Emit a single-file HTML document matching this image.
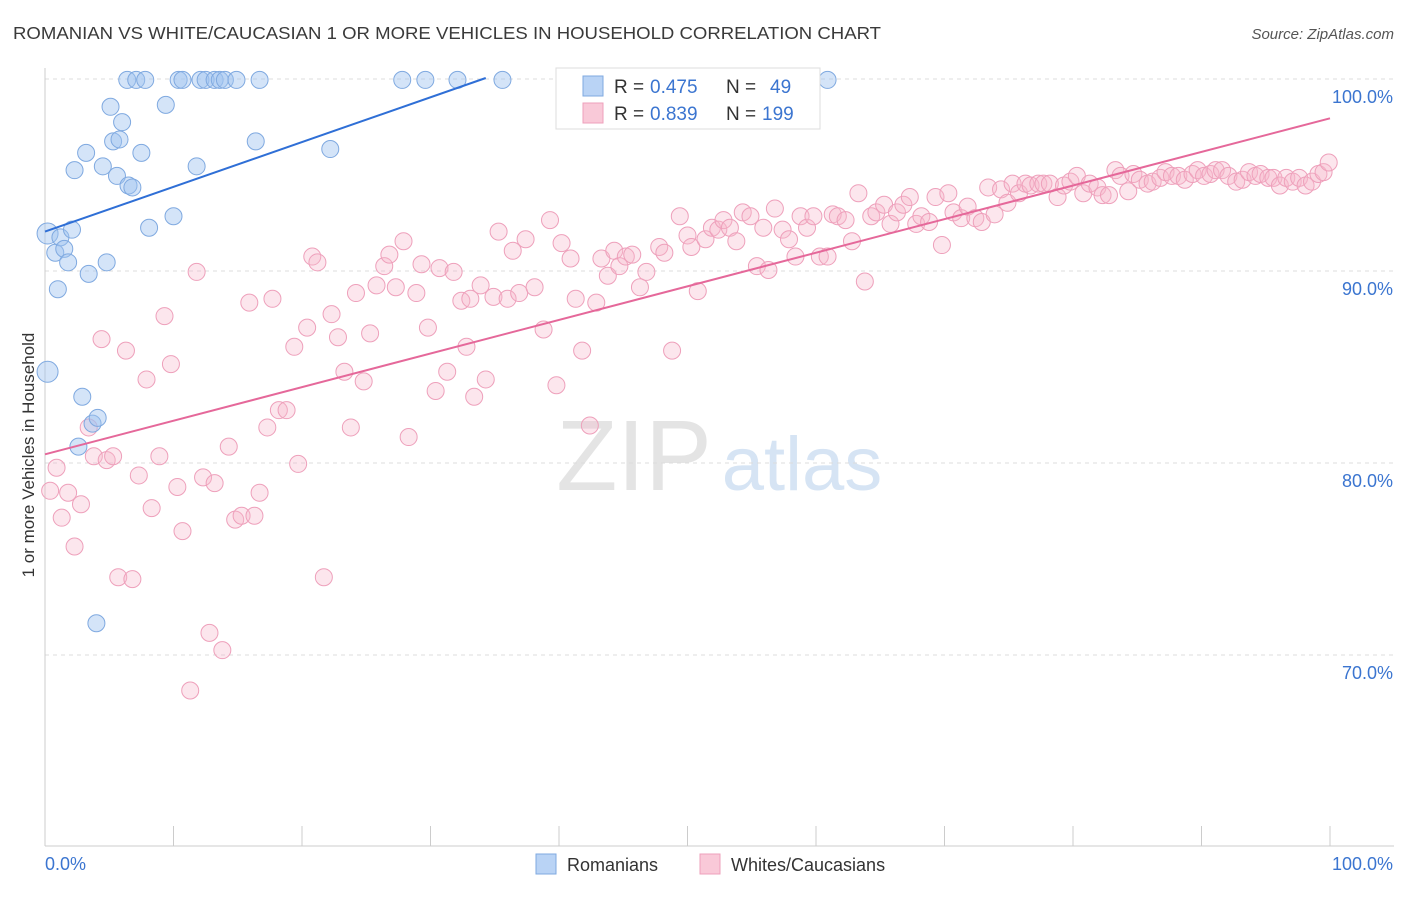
<!DOCTYPE html>
<html><head><meta charset="utf-8"><style>
body{margin:0;background:#fff;font-family:"Liberation Sans",sans-serif;}
svg text{font-family:"Liberation Sans",sans-serif;}
</style></head><body>
<svg id="chart" width="1406" height="892" xmlns="http://www.w3.org/2000/svg">
<text x="13" y="39" font-size="17.5" fill="#3a3a3a" textLength="868" lengthAdjust="spacingAndGlyphs">ROMANIAN VS WHITE/CAUCASIAN 1 OR MORE VEHICLES IN HOUSEHOLD CORRELATION CHART</text>
<text x="1394" y="39" font-size="15" fill="#555" font-style="italic" text-anchor="end">Source: ZipAtlas.com</text>
<g>
<text x="634" y="490" font-size="100" fill="#e4e4e4" font-family="Liberation Serif" text-anchor="middle">ZIP</text>
<text x="802" y="490" font-size="76" fill="#d6e4f4" text-anchor="middle">atlas</text>
</g>
<g id="grid"></g>
<g id="axes"></g>
<g id="marks"></g>
<text transform="translate(34,455) rotate(-90)" font-size="17" fill="#333" text-anchor="middle">1 or more Vehicles in Household</text>
<g>
<rect x="556" y="68" width="264" height="61" fill="#fff" stroke="#ddd"/>
<rect x="583" y="76" width="20" height="20" fill="#b9d3f5" stroke="#7fa9e0"/>
<rect x="583" y="103" width="20" height="20" fill="#f9c9d8" stroke="#eea0bb"/>
<text x="614" y="93" font-size="19" fill="#333">R =</text>
<text x="650" y="93" font-size="19" fill="#3b75d0">0.475</text>
<text x="726" y="93" font-size="19" fill="#333">N =</text>
<text x="770" y="93" font-size="19" fill="#3b75d0">49</text>
<text x="614" y="120" font-size="19" fill="#333">R =</text>
<text x="650" y="120" font-size="19" fill="#3b75d0">0.839</text>
<text x="726" y="120" font-size="19" fill="#333">N =</text>
<text x="762" y="120" font-size="19" fill="#3b75d0">199</text>
</g>
<g>
<rect x="536" y="854" width="20" height="20" fill="#b9d3f5" stroke="#7fa9e0"/>
<text x="567" y="871" font-size="18" fill="#333">Romanians</text>
<rect x="700" y="854" width="20" height="20" fill="#f9c9d8" stroke="#eea0bb"/>
<text x="731" y="871" font-size="18" fill="#333">Whites/Caucasians</text>
</g>
</svg>
<script>
const blueX=[0.2,0.2,0.8,1.0,1.2,1.5,1.8,2.1,2.3,2.6,2.9,3.2,3.4,3.7,4.1,4.0,4.5,4.8,5.1,5.3,5.6,5.8,6.0,6.5,6.8,6.4,7.1,7.5,7.8,8.1,9.4,10.0,10.4,10.7,11.8,12.1,12.5,13.2,13.6,14.0,14.9,16.4,16.7,22.2,27.8,29.6,32.1,35.6,53.9,60.9];
const blueY=[91.9,84.7,90.9,89.0,91.7,91.1,90.4,92.1,95.2,80.8,83.4,96.1,89.8,82.0,82.3,71.6,95.4,90.4,98.5,96.7,94.9,96.8,97.7,94.4,94.3,99.9,99.9,96.1,99.9,92.2,98.6,92.8,99.9,99.9,95.4,99.9,99.9,99.9,99.9,99.9,99.9,96.7,99.9,96.3,99.9,99.9,99.9,99.9,99.9,99.9];
const pinkX=[0.4,0.9,1.3,1.8,2.3,2.8,3.4,3.8,4.4,4.8,5.3,5.7,6.3,6.8,7.3,7.9,8.3,8.9,9.3,9.8,10.3,10.7,11.3,11.8,12.3,12.8,13.2,13.8,14.3,14.8,15.3,15.9,16.3,16.7,17.3,17.7,18.2,18.8,19.4,19.7,20.4,20.8,21.2,21.7,22.3,22.8,23.3,23.8,24.2,24.8,25.3,25.8,26.4,26.8,27.3,27.9,28.3,28.9,29.3,29.8,30.4,30.7,31.3,31.8,32.4,32.8,33.1,33.4,33.9,34.3,34.9,35.3,36.0,36.4,36.9,37.4,38.1,38.8,39.3,39.8,40.2,40.9,41.3,41.8,42.4,42.9,43.3,43.8,44.3,44.7,45.2,45.7,46.3,46.8,47.8,48.2,48.8,49.4,50.0,50.3,50.8,51.4,51.9,52.4,52.8,53.3,53.8,54.3,54.9,55.4,55.9,56.3,56.8,57.4,57.9,58.4,58.8,59.3,59.8,60.3,60.9,61.3,61.7,62.3,62.8,63.3,63.8,64.3,64.7,65.3,65.8,66.3,66.8,67.3,67.8,68.2,68.8,69.3,69.8,70.3,70.7,71.3,71.8,72.4,72.9,73.4,73.9,74.4,74.9,75.3,75.8,76.3,76.7,77.3,77.7,78.2,78.8,79.3,79.8,80.3,80.8,81.3,81.9,82.3,82.8,83.3,83.7,84.3,84.7,85.2,85.8,86.2,86.8,87.2,87.7,88.2,88.7,89.3,89.7,90.2,90.7,91.1,91.6,92.1,92.7,93.2,93.7,94.2,94.6,95.2,95.6,96.1,96.6,97.1,97.6,98.1,98.6,99.1,99.5,99.9];
const pinkY=[78.5,79.7,77.1,78.4,75.6,77.8,81.8,80.3,86.4,80.1,80.3,74.0,85.8,73.9,79.3,84.3,77.6,80.3,87.6,85.1,78.7,76.4,68.1,89.9,79.2,71.1,78.9,70.2,80.8,77.0,77.2,88.3,77.2,78.4,81.8,88.5,82.7,82.7,86.0,79.9,87.0,90.7,90.4,74.0,87.7,86.5,84.7,81.8,88.8,84.2,86.7,89.2,90.2,90.8,89.1,91.5,81.3,88.8,90.3,87.0,83.7,90.1,84.7,89.9,88.4,86.0,88.5,83.4,89.2,84.3,88.6,92.0,88.5,91.0,88.8,91.6,89.1,86.9,92.6,84.0,91.4,90.6,88.5,85.8,81.9,88.3,90.6,89.7,91.0,90.2,90.7,90.8,89.1,89.9,91.2,90.9,85.8,92.8,91.8,91.2,88.9,91.6,92.2,92.1,92.6,92.2,91.5,93.0,92.8,90.2,92.2,90.0,93.2,92.1,91.6,90.7,92.8,92.2,92.8,90.7,90.7,92.9,92.8,92.6,91.5,94.0,89.4,92.8,93.0,93.4,92.4,93.0,93.4,93.8,92.4,92.8,92.5,93.8,91.3,94.0,93.0,92.7,93.3,92.7,92.5,94.3,92.9,94.2,93.5,94.5,94.0,94.5,94.4,94.5,94.5,94.5,93.8,94.4,94.6,94.9,94.0,94.5,94.3,93.9,93.9,95.2,94.9,94.1,95.0,94.7,94.5,94.6,94.8,95.1,94.9,94.9,94.7,95.0,95.2,94.9,95.0,95.2,95.2,94.9,94.6,94.7,95.1,94.9,95.0,94.8,94.8,94.4,94.8,94.6,94.8,94.4,94.6,95.0,95.1,95.6];
const blueTrend=[0,92.0,34.3,100];
const pinkTrend=[0,80.4,100,97.9];
const yTicks=[100,90,80,70];
const xTickVals=[0,10,20,30,40,50,60,70,80,90,100];

const NS="http://www.w3.org/2000/svg";
const X0=45,X1=1330,YT=78,YB=846,YMIN=60,YMAX=100;
const sx=v=>X0+(v/100)*(X1-X0);
const sy=v=>YB-(v-YMIN)/(YMAX-YMIN)*(YB-YT);
function mk(tag,attrs,parent){const e=document.createElementNS(NS,tag);for(const k in attrs)e.setAttribute(k,attrs[k]);parent.appendChild(e);return e;}
const grid=document.getElementById('grid'),axes=document.getElementById('axes'),marks=document.getElementById('marks');
yTicks.forEach(t=>{
  const l=mk('line',{x1:X0,x2:1394,y1:sy(t)+1,y2:sy(t)+1,stroke:'#dcdcdc','stroke-dasharray':'4,4'},grid);
  
  
  const tx=mk('text',{x:1393,y:sy(t)+25,'font-size':18,fill:'#3b75d0','text-anchor':'end'},axes);
  tx.textContent=t.toFixed(1)+'%';
  
  
});
const ya=mk('line',{x1:X0,x2:X0,y1:68,y2:YB,stroke:'#ccc'},axes);


const xa=mk('line',{x1:X0,x2:1394,y1:YB,y2:YB,stroke:'#ccc'},axes);


xTickVals.forEach(t=>{
  const l=mk('line',{x1:sx(t),x2:sx(t),y1:YB-20,y2:YB,stroke:'#ccc'},axes);
  
  
});
[[0,'start','0.0%'],[100,'end','100.0%']].forEach(([v,a,s])=>{
  const tx=mk('text',{x:v===0?sx(v):sx(v)+63,y:870,'font-size':18,fill:'#3b75d0','text-anchor':a},axes);
  tx.textContent=s;
  
  
});
pinkX.forEach((x,i)=>{
  const c=mk('circle',{cx:sx(x),cy:sy(pinkY[i]),r:8.5,fill:'rgba(246,182,203,0.35)',stroke:'#eea0bb','stroke-width':1},marks);
  
  
});
blueX.forEach((x,i)=>{
  const c=mk('circle',{cx:sx(x),cy:sy(blueY[i]),r:i<2?10.5:8.5,fill:'rgba(160,196,240,0.45)',stroke:'#7fa9e0','stroke-width':1},marks);
  
  
});
const tb=mk('line',{x1:sx(blueTrend[0]),y1:sy(blueTrend[1]),x2:sx(blueTrend[2]),y2:sy(blueTrend[3]),stroke:'#2f6fd6','stroke-width':2},marks);


const tp=mk('line',{x1:sx(pinkTrend[0]),y1:sy(pinkTrend[1]),x2:sx(pinkTrend[2]),y2:sy(pinkTrend[3]),stroke:'#e5689a','stroke-width':2},marks);


</script>
</body></html>
